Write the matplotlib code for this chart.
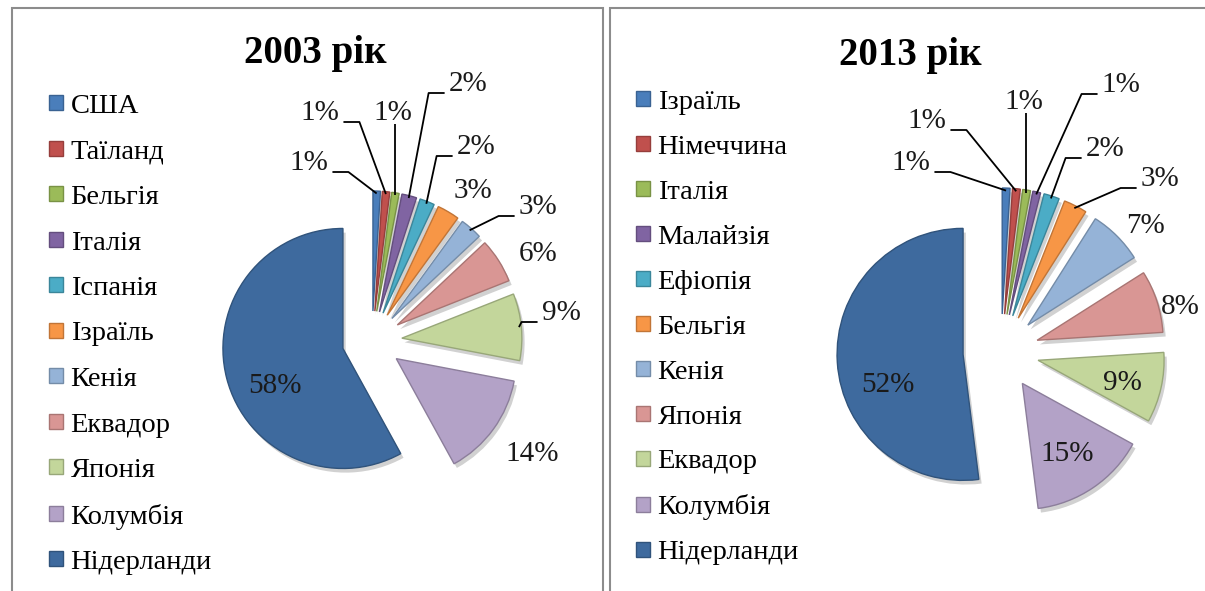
import matplotlib
matplotlib.use("Agg")
import matplotlib.pyplot as plt
import matplotlib.patheffects as pe
from matplotlib.patches import Rectangle
from matplotlib.colors import to_rgb
import numpy as np


# DATA

countries_2003 = ['США', 'Таїланд', 'Бельгія', 'Італія', 'Іспанія', 'Ізраїль',
                  'Кенія', 'Еквадор', 'Японія', 'Колумбія', 'Нідерланди']
shares_2003 = [1, 1, 1, 2, 2, 3, 3, 6, 9, 14, 58]

countries_2013 = ['Ізраїль', 'Німеччина', 'Італія', 'Малайзія', 'Ефіопія', 'Бельгія',
                  'Кенія', 'Японія', 'Еквадор', 'Колумбія', 'Нідерланди']
shares_2013 = [1, 1, 1, 1, 2, 3, 7, 8, 9, 15, 52]

titles = ['2003 рік', '2013 рік']


# CONFIGURATION

W, H = 1205, 591
DPI = 100
SERIF = ['Liberation Serif', 'DejaVu Serif']
plt.rcParams['font.family'] = SERIF

# Excel 2007 style palette
COLORS = ['#4A7EBB', '#C0504D', '#9BBB59', '#8064A2', '#4BACC6', '#F79646',
          '#95B3D7', '#D99694', '#C3D69B', '#B3A2C7', '#3E6A9E']

BORDER_COLOR = '#8C8C8C'
TEXT_COLOR = '#1A1A1A'
TITLE_SIZE = 28
LEGEND_SIZE = 20.5
LABEL_SIZE = 21

# Layout of each panel, in pixels measured from the top-left corner
# explode is the wedge offset in pixels
PANELS = [
    dict(xrange=(0, 606), box=(12, 8, 603), title_xy=(315, 63),
         center=(372, 341), radius=120, explode=30,
         legend_xy=(49, 94), labelspacing=0.72,
         label_xy=[(309, 163), (320, 113), (393, 113), (468, 84), (476, 147),
                   (473, 191), (538, 207), (538, 254), (561, 313), (532, 454),
                   (275, 386)],
         leaders=['h', 'h', 'v', 'h', 'h', None, 'h', None, 'h', None, None]),
    dict(xrange=(606, 1205), box=(610, 8, 1220), title_xy=(910, 65),
         center=(1001, 352), radius=126, explode=38,
         legend_xy=(636, 90), labelspacing=0.70,
         label_xy=[(911, 163), (927, 121), (1024, 102), (1121, 85), (1105, 149),
                   (1160, 179), (1146, 226), (1180, 307), (1122, 383), (1067, 454),
                   (888, 385)],
         leaders=['h', 'h', 'v', 'h', 'h', 'h', None, None, None, None, None]),
]


def darker(color, k=0.78):
    r, g, b = to_rgb(color)
    return (r * k, g * k, b * k)


def draw_panel(fig, panel, countries, shares, title):
    x0, x1 = panel['xrange']
    ax = fig.add_axes([x0 / W, 0, (x1 - x0) / W, 1])

    cx, cy = panel['center']
    r = panel['radius']
    e = panel['explode']

    wedges, _ = ax.pie(
        shares,
        explode=[e] * len(shares),
        colors=COLORS,
        startangle=90,
        counterclock=False,
        radius=r,
        center=(cx, H - cy),
        wedgeprops=dict(linewidth=1.0),
    )
    shadow = [pe.SimplePatchShadow(offset=(2, -3), shadow_rgbFace='black', alpha=0.18),
              pe.Normal()]
    for w, c in zip(wedges, COLORS):
        w.set_edgecolor(darker(c))
        w.set_path_effects(shadow)

    ax.set_xlim(x0, x1)
    ax.set_ylim(0, H)
    ax.set_aspect('auto')
    ax.axis('off')

    # panel border
    bx0, by0, bx1 = panel['box']
    ax.add_patch(Rectangle((bx0, -20), bx1 - bx0, H - by0 + 20, fill=False,
                           edgecolor=BORDER_COLOR, linewidth=1.5, clip_on=False))

    # title
    tx, ty = panel['title_xy']
    ax.text(tx, H - ty, title, ha='center', va='baseline', fontsize=TITLE_SIZE,
            fontweight='bold', color='black')

    # legend
    lx, ly = panel['legend_xy']
    leg = ax.legend(wedges, countries, loc='upper left', bbox_to_anchor=(lx, H - ly),
                    bbox_transform=ax.transData, frameon=False, fontsize=LEGEND_SIZE,
                    handlelength=0.48, handleheight=0.42, handletextpad=0.28,
                    labelspacing=panel['labelspacing'], borderpad=0, borderaxespad=0)
    for hnd in leg.legend_handles:
        hnd.set_path_effects([])

    # percentage labels
    total = float(sum(shares))
    cum = np.cumsum([0] + list(shares[:-1]))
    texts = []
    for v, (px, py) in zip(shares, panel['label_xy']):
        t = ax.text(px, H - py, f'{v}%', ha='center', va='center',
                    fontsize=LABEL_SIZE, color=TEXT_COLOR, zorder=5)
        texts.append(t)

    # leader lines from labels to the outer edge of their wedge
    fig.canvas.draw()
    inv = ax.transData.inverted()
    for v, c0, t, style, (px, py) in zip(shares, cum, texts, panel['leaders'],
                                         panel['label_xy']):
        if style is None:
            continue
        theta = np.radians(360.0 * (c0 + v / 2.0) / total)
        dist = e + r * 0.98
        axp = cx + dist * np.sin(theta)
        ayp = cy - dist * np.cos(theta)
        bb = t.get_window_extent()
        (bx_l, by_b), (bx_r, by_t) = inv.transform([[bb.x0, bb.y0], [bb.x1, bb.y1]])
        if style == 'v':
            xs = [axp, axp]
            ys = [by_b + 2, H - ayp]
        else:
            side = 1 if axp > px else -1
            start = (bx_r + 4) if side > 0 else (bx_l - 4)
            seg = min(16, abs(axp - start))
            yline = H - (py + 9)
            xs = [start, start + side * seg, axp]
            ys = [yline, yline, H - ayp]
        ax.plot(xs, ys, color='black', linewidth=1.3, zorder=4,
                solid_capstyle='butt')
    return ax


fig = plt.figure(figsize=(W / DPI, H / DPI), dpi=DPI)
fig.patch.set_facecolor('white')

draw_panel(fig, PANELS[0], countries_2003, shares_2003, titles[0])
draw_panel(fig, PANELS[1], countries_2013, shares_2013, titles[1])

fig.savefig('out.png', dpi=DPI, facecolor='white')
